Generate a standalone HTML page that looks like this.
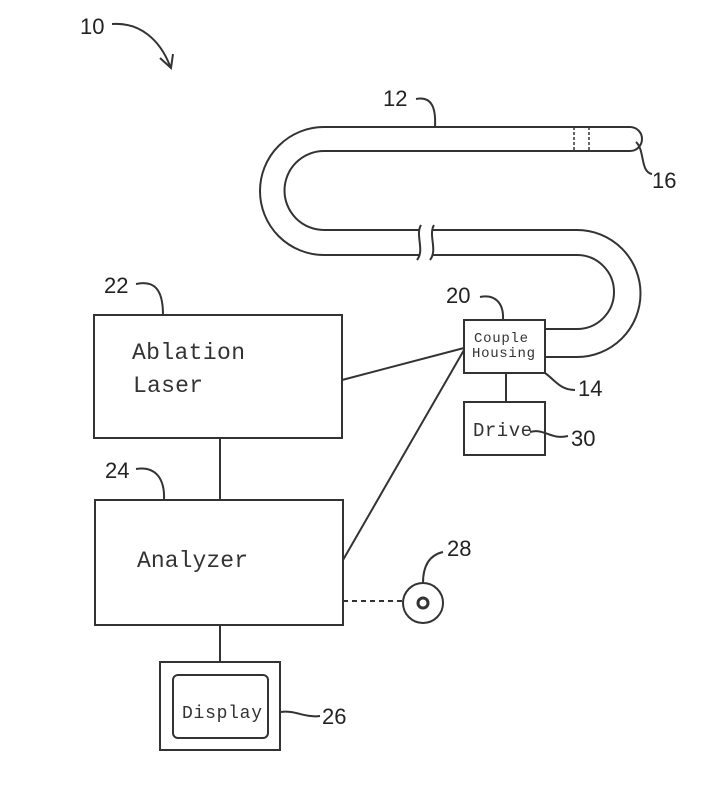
<!DOCTYPE html>
<html><head><meta charset="utf-8"><style>
html,body{margin:0;padding:0;background:#fff;}
svg{display:block;}
.n{font-family:"Liberation Sans",sans-serif;font-size:22px;fill:#222;}
.m{font-family:"Liberation Mono",monospace;fill:#333;}
</style></head><body>
<svg width="722" height="786" viewBox="0 0 722 786" xmlns="http://www.w3.org/2000/svg">
<g fill="none" stroke="#333" stroke-width="2">
<path d="M112 24 C140 22 160 40 170 66"/>
<path d="M160 58 L171 68 L173 54"/>
<path d="M420 255 L324 255 A64 64 0 0 1 324 127 L630 127 A12 12 0 0 1 630 151 L324 151 A39.5 39.5 0 0 0 324 230 L420 230"/>
<path d="M421 225 C415 235 425 250 417 260"/>
<path d="M434 225 C428 235 438 250 430 260"/>
<path d="M433 230 L577 230 A63.5 63.5 0 0 1 577 357 L545 357"/>
<path d="M433 255 L577 255 A37 37 0 0 1 577 329 L545 329"/>
<path d="M574 127 L574 151 M589 127 L589 151" stroke-dasharray="3 2" stroke-width="1.5"/>
<path d="M416 99 C432 96 436 108 435 127"/>
<path d="M636 142 C645 150 640 172 652 174"/>
<path d="M480 297 C494 294 504 302 503 320"/>
<path d="M545 373 C555 380 560 390 575 390"/>
<path d="M530 432 C545 428 550 440 568 436"/>
<path d="M136 284 C155 280 163 290 163 315"/>
<path d="M136 469 C155 466 165 478 164 500"/>
<path d="M281 712 C295 710 305 718 320 716"/>
<path d="M423 583 C423 565 430 555 443 552"/>
<rect x="94" y="315" width="248" height="123"/>
<rect x="95" y="500" width="248" height="125"/>
<rect x="464" y="320" width="81" height="53"/>
<rect x="464" y="402" width="81" height="53"/>
<rect x="160" y="662" width="120" height="88"/>
<rect x="173" y="675" width="95" height="63" rx="5"/>
<path d="M220 438 L220 500 M220 625 L220 662 M506 373 L506 402"/>
<path d="M342 380 L464 348 M343 560 L464 350"/>
<path d="M343 601 L403 601" stroke-dasharray="5 4"/>
<circle cx="423" cy="603" r="20"/>
<circle cx="423" cy="603" r="5" stroke-width="3"/>
</g>
<text class="n" x="80" y="34">10</text>
<text class="n" x="383" y="106">12</text>
<text class="n" x="652" y="188">16</text>
<text class="n" x="446" y="303">20</text>
<text class="n" x="578" y="396">14</text>
<text class="n" x="571" y="446">30</text>
<text class="n" x="104" y="293">22</text>
<text class="n" x="105" y="478">24</text>
<text class="n" x="322" y="724">26</text>
<text class="n" x="447" y="556">28</text>
<text class="m" x="132" y="359" font-size="23" textLength="113">Ablation</text>
<text class="m" x="133" y="392" font-size="23" textLength="70">Laser</text>
<text class="m" x="137" y="567" font-size="23" textLength="111">Analyzer</text>
<text class="m" x="474" y="342" font-size="14" textLength="54">Couple</text>
<text class="m" x="472" y="357" font-size="14" textLength="63">Housing</text>
<text class="m" x="473" y="436" font-size="19" textLength="59">Drive</text>
<text class="m" x="182" y="718" font-size="18" textLength="80">Display</text>
</svg>
</body></html>
